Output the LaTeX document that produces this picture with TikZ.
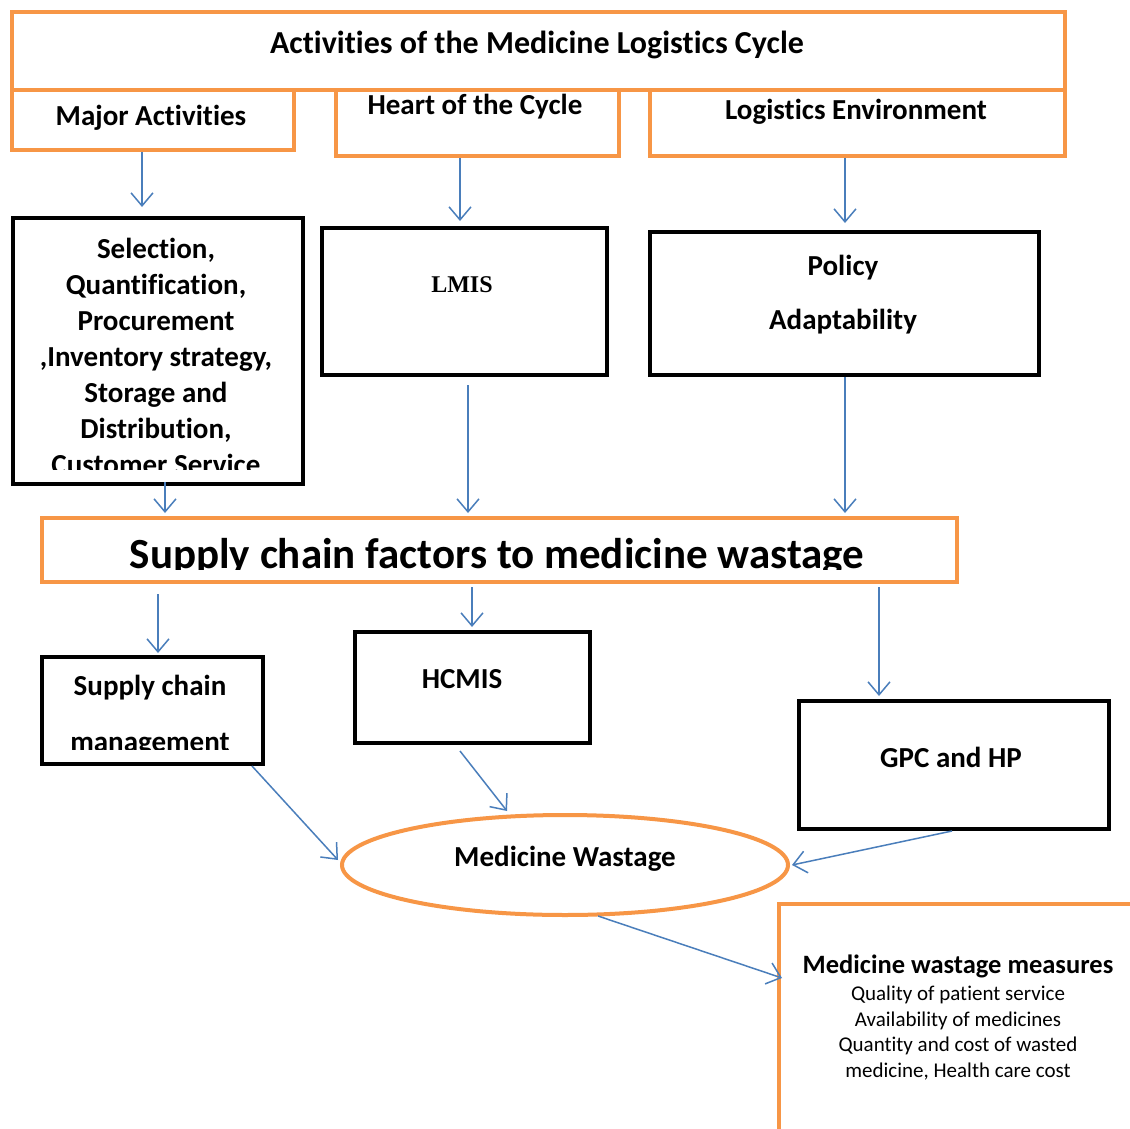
\documentclass[tikz,border=0pt]{standalone}
\usepackage{fontspec}
\setmainfont{Carlito}[Ligatures=NoCommon]
\newfontfamily\lmisfont{Liberation Serif}
\usetikzlibrary{arrows.meta,shapes.geometric}
\definecolor{orgc}{HTML}{F79646}
\definecolor{bluec}{HTML}{4A7EBB}
\begin{document}
\begin{tikzpicture}[x=1pt,y=-1pt,
  ob/.style={draw=orgc, line width=4pt, inner sep=0pt, anchor=north west},
  kb/.style={draw=black, line width=4pt, inner sep=0pt, anchor=north west},
  arr/.style={draw=bluec, line width=1.5pt, -{Straight Barb[length=13pt,width=22pt]}},
  lbl/.style={font=\bfseries\fontsize{29}{34}\selectfont, align=center, inner sep=0pt},
  sm/.style={font=\fontsize{21}{25.7}\selectfont, align=center, inner sep=0pt},
]
\useasboundingbox (0,0) rectangle (1130,1129);
\fill[white] (0,0) rectangle (1130,1129);

% top boxes
\node[ob, minimum width=1053pt, minimum height=78pt] (title) at (10,10) {};
\node[ob, minimum width=282pt, minimum height=60pt] (maj) at (10,88) {};
\node[ob, minimum width=283pt, minimum height=66pt] (heart) at (334,88) {};
\node[ob, minimum width=415pt, minimum height=66pt] (env) at (648,88) {};
\node[lbl, font=\bfseries\fontsize{32}{37}\selectfont] (ttitle) at (537,45) {Activities of the Medicine Logistics Cycle};
\node[lbl] (tmaj) at (151,118) {Major Activities};
\node[lbl] (theart) at (475,107) {Heart of the Cycle};
\node[lbl] (tenv) at (856,112) {Logistics Environment};

% second row
\node[kb, minimum width=290pt, minimum height=266pt] (sel) at (11,216) {};
\node[kb, minimum width=285pt, minimum height=147pt] (lmis) at (320,226) {};
\node[kb, minimum width=389pt, minimum height=143pt] (pol) at (648,230) {};
\begin{scope}
\clip (13,218) rectangle (299,469);
\node[lbl, font=\bfseries\fontsize{29}{36}\selectfont] (tsel) at (156,356)
 {Selection,\\Quantification,\\Procurement\\,Inventory strategy,\\Storage and\\Distribution,\\Customer Service};
\end{scope}
\node[lbl, font=\lmisfont\bfseries\fontsize{24}{28}\selectfont] (tlmis) at (462,285) {LMIS};
\node[lbl] (tpol1) at (843,268) {Policy};
\node[lbl] (tpol2) at (843,322) {Adaptability};

% supply chain factors
\node[ob, minimum width=915pt, minimum height=64pt] (scf) at (40,516) {};
\begin{scope}
\clip (42,518) rectangle (953,569);
\node[lbl, font=\bfseries\fontsize{43}{48}\selectfont, anchor=base] (tscf) at (497,568) {Supply chain factors to medicine wastage};
\end{scope}

% third row
\node[kb, minimum width=221pt, minimum height=107pt] (scm) at (40,655) {};
\node[kb, minimum width=235pt, minimum height=111pt] (hcmis) at (353,630) {};
\node[kb, minimum width=310pt, minimum height=128pt] (gpc) at (797,699) {};
\node[lbl] (tscm1) at (150,688) {Supply chain};
\begin{scope}
\clip (42,657) rectangle (259,749);
\node[lbl, anchor=base] (tscm2) at (150,751) {management};
\end{scope}
\node[lbl] (thcmis) at (462,679) {HCMIS};
\node[lbl] (tgpc) at (951,757) {GPC and HP};

% ellipse
\node[draw=orgc, line width=4pt, ellipse, minimum width=446pt, minimum height=100pt, inner sep=0pt] (waste) at (565,865) {};
\node[lbl] (twaste) at (565,859) {Medicine Wastage};

% measures box
\node[ob, minimum width=380pt, minimum height=260pt] (meas) at (777,902) {};
\node[lbl, font=\bfseries\fontsize{26.5}{30}\selectfont] (tmeas) at (958,966) {Medicine wastage measures};
\node[sm] (tmeas2) at (958,1033) {Quality of patient service\\Availability of medicines\\Quantity and cost of wasted\\medicine, Health care cost};

% arrows
\draw[arr, shorten >=9pt] ([xshift=-11pt]maj.south) -- ([xshift=-16pt]sel.north);
\draw[arr, shorten >=5pt] ([xshift=-17.5pt]heart.south) -- ([xshift=-4.5pt]lmis.north);
\draw[arr, shorten >=7pt] ([xshift=-12.5pt]env.south) -- ([xshift=0.5pt]pol.north);
\draw[arr, shorten >=3pt, shorten <=-4pt] ([xshift=7pt]sel.south) -- ([xshift=-334.5pt]scf.north);
\draw[arr, shorten >=3pt, shorten <=8pt] ([xshift=3.5pt]lmis.south) -- ([xshift=-31.5pt]scf.north);
\draw[arr, shorten >=3pt] ([xshift=0.5pt]pol.south) -- ([xshift=345.5pt]scf.north);
\draw[arr, shorten <=10pt, shorten >=2pt] ([xshift=-341.5pt]scf.south) -- ([xshift=5.5pt]scm.north);
\draw[arr, shorten <=3pt, shorten >=3pt] ([xshift=-27.5pt]scf.south) -- ([xshift=-0.5pt]hcmis.north);
\draw[arr, shorten <=3pt, shorten >=3pt] ([xshift=379.5pt]scf.south) -- ([xshift=-75pt]gpc.north);
\draw[arr] ([xshift=-13pt]scm.south east) -- ([xshift=-2pt,yshift=5pt]waste.west);
\draw[arr] ([xshift=-12.5pt,yshift=-6pt]hcmis.south) -- ([xshift=-58pt,yshift=2pt]waste.north);
\draw[arr] ([xshift=-2pt]gpc.south) -- ([xshift=2pt]waste.east);
\draw[arr] ([xshift=33pt,yshift=1pt]waste.south) -- ([xshift=5pt,yshift=-76pt]meas.north west);
\end{tikzpicture}
\end{document}
